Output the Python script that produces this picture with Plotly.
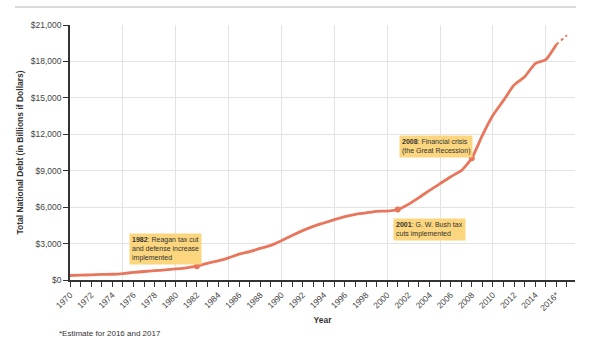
import plotly.graph_objects as go

years = list(range(1970, 2017))
debt = [371, 398, 427, 458, 475, 533, 620, 699, 772, 827,
        908, 998, 1142, 1377, 1572, 1823, 2125, 2340, 2602, 2857,
        3233, 3665, 4065, 4411, 4693, 4974, 5225, 5413, 5526, 5656,
        5674, 5807, 6228, 6783, 7379, 7933, 8507, 9008, 10025, 11910,
        13562, 14790, 16066, 16738, 17824, 18151, 19400]
est_years = [2016, 2017]
est_debt = [19400, 20150]

event_years = [1982, 2001, 2008]
event_texts = ["<b>1982</b>: Reagan tax cut<br>and defense increase<br>implemented",
               "<b>2001</b>: G. W. Bush tax<br>cuts implemented",
               "<b>2008</b>: Financial crisis<br>(the Great Recession)"]
event_box_x = [1975.6, 2000.5, 2001.1]
event_box_y = [3870, 5100, 11950]

tick_years = list(range(1970, 2018))
tick_text = [("2016*" if y == 2016 else str(y)) if y % 2 == 0 else "" for y in tick_years]
y_ticks = [0, 3000, 6000, 9000, 12000, 15000, 18000, 21000]
y_text = ["$" + format(v, ",") for v in y_ticks]

LINE = "#E8765C"
BOX = "#FBD67E"
FONT = "Liberation Sans, Arial, sans-serif"

fig = go.Figure()
# invisible trace to anchor the grid axis
fig.add_trace(go.Scatter(x=[1970], y=[0], xaxis="x2", mode="markers",
                         marker=dict(opacity=0), hoverinfo="skip", showlegend=False))
fig.add_trace(go.Scatter(x=years, y=debt, mode="lines",
                         line=dict(color=LINE, width=2.8, shape="spline", smoothing=0.5),
                         showlegend=False))
fig.add_trace(go.Scatter(x=est_years, y=est_debt, mode="lines",
                         line=dict(color=LINE, width=2, dash="dot"), showlegend=False))
ev_vals = [debt[years.index(y)] for y in event_years]
fig.add_trace(go.Scatter(x=event_years, y=ev_vals, mode="markers",
                         marker=dict(color=LINE, size=6), showlegend=False))

for bx, by, t in zip(event_box_x, event_box_y, event_texts):
    fig.add_annotation(x=bx, y=by, xref="x", yref="y", text=t, showarrow=False,
                       xanchor="left", yanchor="top", align="left",
                       bgcolor=BOX, borderpad=2,
                       font=dict(family=FONT, size=7, color="#333"))

fig.add_annotation(x=-0.026, y=-0.208, xref="paper", yref="paper",
                   text="*Estimate for 2016 and 2017", showarrow=False,
                   xanchor="left", yanchor="middle",
                   font=dict(family=FONT, size=8, color="#333"))

fig.add_shape(type="line", xref="paper", yref="paper",
              x0=-0.109, x1=1.002, y0=1.0706, y1=1.0706,
              line=dict(color="#cfcfcf", width=1.5))

xr = [1970, 2017.76]
fig.update_layout(
    width=600, height=341,
    margin=dict(l=70, r=25, t=25, b=61),
    paper_bgcolor="white", plot_bgcolor="white",
    font=dict(family=FONT, color="#333"),
    xaxis=dict(range=xr, tickmode="array", tickvals=tick_years, ticktext=tick_text,
               tickangle=-45, ticks="outside", ticklen=5, tickwidth=1, tickcolor="#333",
               showgrid=False, showline=True, linecolor="#333", linewidth=1.5,
               zeroline=False, tickfont=dict(size=8.5, color="#444"),
               title=dict(text="<b>Year</b>", font=dict(size=8.5, color="#333"), standoff=5)),
    xaxis2=dict(range=xr, overlaying="x", tickmode="linear", tick0=1970, dtick=5,
                showgrid=True, gridcolor="#e3e3e3", gridwidth=1,
                showticklabels=False, ticks="", showline=False, zeroline=False),
    yaxis=dict(range=[0, 21000], tickmode="array", tickvals=y_ticks, ticktext=y_text,
               ticks="outside", ticklen=5, tickwidth=1, tickcolor="#333",
               showgrid=True, gridcolor="#e3e3e3", gridwidth=1,
               showline=True, linecolor="#333", linewidth=1.5, zeroline=False,
               tickfont=dict(size=8.5, color="#444"),
               title=dict(text="<b>Total National Debt (in Billions if Dollars)</b>",
                          font=dict(size=8.5, color="#333"), standoff=6)),
)

fig.write_html("out.html")
